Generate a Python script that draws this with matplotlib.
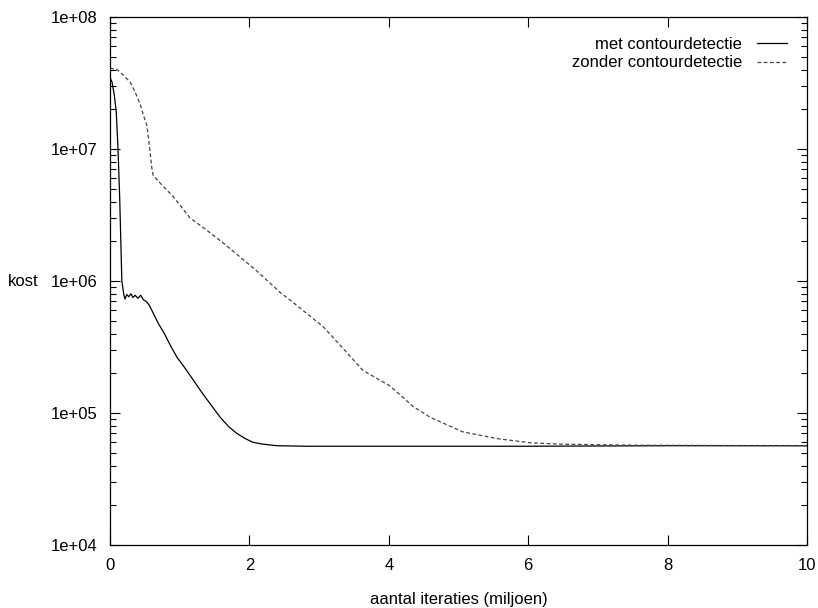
import numpy as np
import matplotlib
matplotlib.use("Agg")
import matplotlib.pyplot as plt
from matplotlib.ticker import LogLocator, FixedLocator

plt.rcParams['font.family'] = ['Liberation Sans', 'DejaVu Sans']

# met contourdetectie (solid)
x_met = [0.0, 0.03, 0.06, 0.09, 0.115, 0.14, 0.17, 0.20, 0.215, 0.24, 0.27,
         0.30, 0.33, 0.36, 0.40, 0.44, 0.48, 0.52, 0.56, 0.60, 0.65, 0.70,
         0.78, 0.86, 0.96, 1.10, 1.22, 1.33, 1.45, 1.58, 1.70, 1.82, 1.94,
         2.05, 2.20, 2.40, 2.80, 4.0, 6.0, 8.0, 10.0]
y_met = [3.5e7, 3.2e7, 2.6e7, 1.9e7, 1.0e7, 4.1e6, 1.0e6, 7.8e5, 7.3e5, 7.9e5, 7.6e5,
         8.0e5, 7.5e5, 7.8e5, 7.4e5, 7.8e5, 7.2e5, 7.0e5, 6.6e5, 6.0e5, 5.3e5, 4.7e5,
         4.0e5, 3.3e5, 2.65e5, 2.1e5, 1.7e5, 1.4e5, 1.15e5, 9.3e4, 7.9e4, 7.0e4, 6.4e4,
         6.0e4, 5.8e4, 5.65e4, 5.6e4, 5.6e4, 5.6e4, 5.65e4, 5.65e4]

# zonder contourdetectie (dashed)
x_zonder = [0.0, 0.10, 0.20, 0.29, 0.36, 0.43, 0.48, 0.53, 0.57, 0.60, 0.62,
            0.75, 0.90, 1.15, 1.40, 1.62, 2.10, 2.44, 2.58, 3.06, 3.34, 3.63,
            4.02, 4.35, 4.59, 5.06, 5.55, 6.03, 6.50, 7.50, 10.0]
y_zonder = [4.1e7, 4.0e7, 3.6e7, 3.2e7, 2.7e7, 2.2e7, 1.8e7, 1.5e7, 1.0e7, 7.2e6, 6.3e6,
            5.3e6, 4.4e6, 3.0e6, 2.4e6, 1.95e6, 1.2e6, 8.2e5, 7.2e5, 4.5e5, 3.1e5, 2.1e5,
            1.6e5, 1.12e5, 9.3e4, 7.2e4, 6.4e4, 5.95e4, 5.8e4, 5.7e4, 5.65e4]

xticks = [0, 2, 4, 6, 8, 10]
yticks = [1e4, 1e5, 1e6, 1e7, 1e8]
ytick_labels = ['1e+04', '1e+05', '1e+06', '1e+07', '1e+08']

fig = plt.figure(figsize=(8.18, 6.08), dpi=100)
ax = fig.add_axes([110/818, 63/608, 697/818, 528/608])

ax.plot(x_met, y_met, color='black', lw=0.9, label='met contourdetectie')
ax.plot(x_zonder, y_zonder, color='#444444', lw=0.9, dashes=(3, 2),
        label='zonder contourdetectie')

ax.set_yscale('log')
ax.set_xlim(0, 10)
ax.set_ylim(1e4, 1e8)
ax.xaxis.set_major_locator(FixedLocator(xticks))
ax.set_xticklabels([str(t) for t in xticks])
ax.yaxis.set_major_locator(FixedLocator(yticks))
ax.set_yticklabels(ytick_labels)
ax.yaxis.set_minor_locator(LogLocator(base=10, subs=np.arange(2, 10)))
ax.yaxis.set_minor_formatter(plt.NullFormatter())

ax.tick_params(which='major', direction='in', length=7, width=0.8,
               top=True, right=True, labelsize=12, pad=9)
ax.tick_params(which='minor', direction='in', length=4, width=0.8,
               right=True, left=True)
for s in ax.spines.values():
    s.set_linewidth(0.9)

ax.set_xlabel('aantal iteraties (miljoen)', fontsize=12, labelpad=14)
ax.set_ylabel('kost', fontsize=12, rotation=0, ha='center', va='center')
ax.yaxis.set_label_coords(-0.125, 0.5)

ax.legend(loc='upper right', frameon=False, markerfirst=False, fontsize=12,
          handlelength=1.8, handletextpad=0.9, labelspacing=0.2,
          borderaxespad=0.8, bbox_to_anchor=(1.0, 1.0))

fig.savefig('out.png', dpi=100)
